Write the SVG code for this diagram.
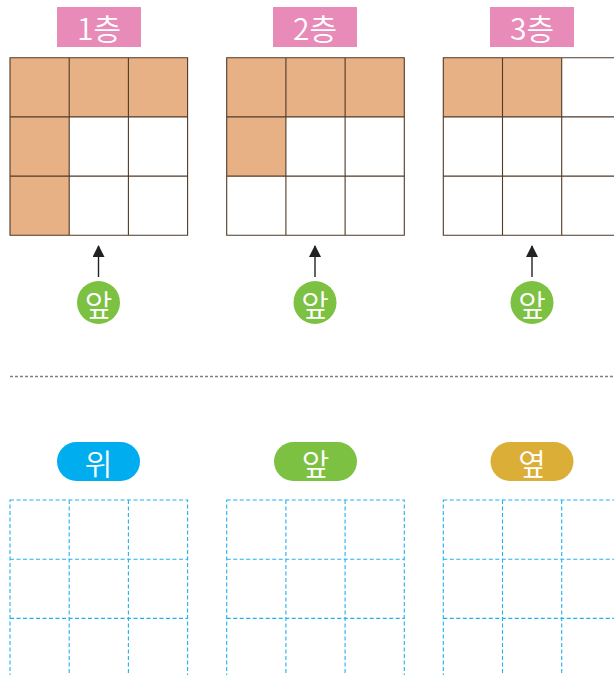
<svg xmlns="http://www.w3.org/2000/svg" width="614" height="675" viewBox="0 0 614 675">
<defs>
<style>
.lbl{fill:#e88bb9}
.t{font-family:"Noto Sans CJK KR","Noto Sans",sans-serif;font-size:30px;font-weight:350;fill:#fff;text-anchor:middle;dominant-baseline:central}
.f{fill:#e8b085}
.g{fill:none;stroke:#4f3a27;stroke-width:1.1}
.d{fill:none;stroke:#1fb2ee;stroke-width:1.1;stroke-dasharray:4 2.5}
.arr{stroke:#222;stroke-width:1.4;fill:none}
.circ{fill:#7cc142}
</style>
<marker id="ah" viewBox="0 0 12 12" refX="11" refY="6" markerWidth="12" markerHeight="12" markerUnits="userSpaceOnUse" orient="auto">
<path d="M0,0 L12,6 L0,12 Z" fill="#222"/>
</marker>
</defs>
<rect width="614" height="675" fill="#fff"/>

<g id="label1"><rect class="lbl" x="57" y="7" width="84" height="40"/><text class="t" x="99" y="27">1층</text></g>
<g id="label2"><rect class="lbl" x="273" y="7" width="84" height="40"/><text class="t" x="315" y="27">2층</text></g>
<g id="label3"><rect class="lbl" x="490" y="7" width="84" height="40"/><text class="t" x="532" y="27">3층</text></g>

<g id="grid1">
<rect class="f" x="10" y="57.7" width="177.6" height="59.2"/>
<rect class="f" x="10" y="116.9" width="59.2" height="118.4"/>
<path class="g" d="M10,57.7H187.6V235.3H10Z M69.2,57.7V235.3 M128.4,57.7V235.3 M10,116.9H187.6 M10,176.1H187.6"/>
</g>
<g id="grid2">
<rect class="f" x="226.7" y="57.7" width="177.6" height="59.2"/>
<rect class="f" x="226.7" y="116.9" width="59.2" height="59.2"/>
<path class="g" d="M226.7,57.7H404.3V235.3H226.7Z M285.9,57.7V235.3 M345.1,57.7V235.3 M226.7,116.9H404.3 M226.7,176.1H404.3"/>
</g>
<g id="grid3">
<rect class="f" x="443.3" y="57.7" width="118.4" height="59.2"/>
<path class="g" d="M443.3,57.7H620.9V235.3H443.3Z M502.5,57.7V235.3 M561.7,57.7V235.3 M443.3,116.9H620.9 M443.3,176.1H620.9"/>
</g>

<g id="connectors">
<line class="arr" x1="98.5" y1="277" x2="98.5" y2="246" marker-end="url(#ah)"/>
<line class="arr" x1="315" y1="277" x2="315" y2="246" marker-end="url(#ah)"/>
<line class="arr" x1="532" y1="277" x2="532" y2="246" marker-end="url(#ah)"/>
</g>

<g id="front1"><circle class="circ" cx="98.5" cy="302.5" r="21.5"/><text class="t" x="98.5" y="302.5">앞</text></g>
<g id="front2"><circle class="circ" cx="315" cy="302.5" r="21.5"/><text class="t" x="315" y="302.5">앞</text></g>
<g id="front3"><circle class="circ" cx="532" cy="302.5" r="21.5"/><text class="t" x="532" y="302.5">앞</text></g>

<line x1="10" y1="376.5" x2="614" y2="376.5" stroke="#808080" stroke-width="1.5" stroke-dasharray="3 2"/>

<g id="view-top"><rect x="57" y="442" width="83" height="39" rx="19.5" fill="#00aeef"/><text class="t" x="98.5" y="461.5">위</text></g>
<g id="view-front"><rect x="274" y="442" width="83" height="39" rx="19.5" fill="#7cc142"/><text class="t" x="315.5" y="461.5">앞</text></g>
<g id="view-side"><rect x="490.5" y="442" width="83" height="39" rx="19.5" fill="#dbaf37"/><text class="t" x="532" y="461.5">옆</text></g>

<g id="answer1"><path class="d" d="M10,500H187.6V677.6H10Z M69.2,500V677.6 M128.4,500V677.6 M10,559.2H187.6 M10,618.4H187.6"/></g>
<g id="answer2"><path class="d" d="M226.7,500H404.3V677.6H226.7Z M285.9,500V677.6 M345.1,500V677.6 M226.7,559.2H404.3 M226.7,618.4H404.3"/></g>
<g id="answer3"><path class="d" d="M443.3,500H620.9V677.6H443.3Z M502.5,500V677.6 M561.7,500V677.6 M443.3,559.2H620.9 M443.3,618.4H620.9"/></g>
</svg>
